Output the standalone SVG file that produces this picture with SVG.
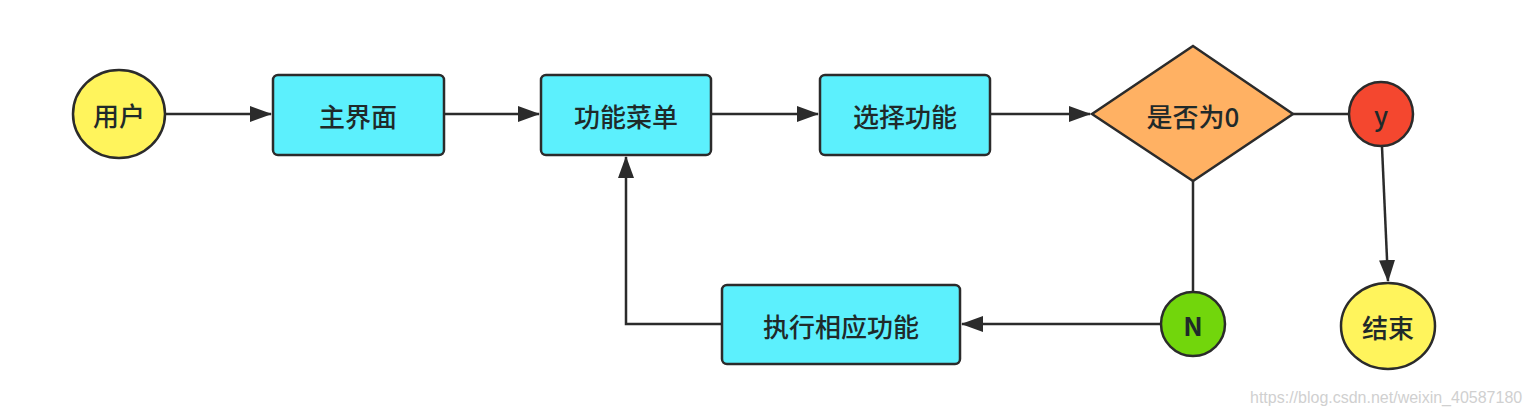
<svg xmlns="http://www.w3.org/2000/svg" width="1531" height="415" viewBox="0 0 1531 415">
<style>
.s{stroke:#2b2b2b;stroke-width:2.5}
.y{fill:#fff45c}
.c{fill:#5cf0fd}
.o{fill:#ffb163}
.r{fill:#f4472f}
.g{fill:#72d60c}
.t{font-family:"Noto Sans CJK SC","Noto Sans",sans-serif;font-size:26px;font-weight:500;fill:#1f2a2a;text-anchor:middle;dominant-baseline:central}
.l{fill:none;stroke:#2b2b2b;stroke-width:2.5}
.wm{font-family:"Liberation Sans",Arial,sans-serif;font-size:16px;fill:#d0d0d0}
</style>
<defs>
<marker id="ah" viewBox="0 0 22 16" refX="21" refY="8" markerWidth="22" markerHeight="16" markerUnits="userSpaceOnUse" orient="auto">
<path d="M0,0 L22,8 L0,16 Z" fill="#2b2b2b"/>
</marker>
</defs>
<rect width="1531" height="415" fill="#ffffff"/>
<g id="connectors">
<line class="l" x1="165" y1="114" x2="271" y2="114" marker-end="url(#ah)"/>
<line class="l" x1="445" y1="114" x2="539" y2="114" marker-end="url(#ah)"/>
<line class="l" x1="711" y1="114" x2="818" y2="114" marker-end="url(#ah)"/>
<line class="l" x1="990" y1="114" x2="1090" y2="114" marker-end="url(#ah)"/>
<line class="l" x1="1293" y1="114" x2="1350" y2="114"/>
<line class="l" x1="1382" y1="147" x2="1388" y2="281" marker-end="url(#ah)"/>
<line class="l" x1="1193" y1="181" x2="1193" y2="291"/>
<line class="l" x1="1162" y1="324" x2="962" y2="324" marker-end="url(#ah)"/>
<polyline class="l" points="721,324 626,324 626,157" marker-end="url(#ah)"/>
</g>
<g id="n-user">
<ellipse class="s y" cx="119" cy="114" rx="46" ry="44"/>
<text class="t" x="119" y="114">用户</text>
</g>
<g id="n-main">
<rect class="s c" x="273" y="75" width="171" height="80" rx="5"/>
<text class="t" x="358" y="115">主界面</text>
</g>
<g id="n-menu">
<rect class="s c" x="541" y="75" width="170" height="80" rx="5"/>
<text class="t" x="626" y="115">功能菜单</text>
</g>
<g id="n-select">
<rect class="s c" x="820" y="75" width="170" height="80" rx="5"/>
<text class="t" x="905" y="115">选择功能</text>
</g>
<g id="n-decide">
<polygon class="s o" points="1193,46 1293,114 1193,181 1092,114"/>
<text class="t" x="1193" y="115">是否为0</text>
</g>
<g id="n-y">
<circle class="s r" cx="1381" cy="114" r="32"/>
<text class="t" x="1381" y="114">y</text>
</g>
<g id="n-end">
<ellipse class="s y" cx="1388" cy="326" rx="47" ry="43"/>
<text class="t" x="1388" y="326">结束</text>
</g>
<g id="n-n">
<circle class="s g" cx="1193" cy="324" r="32"/>
<text class="t" x="1193" y="324" style="font-weight:600">N</text>
</g>
<g id="n-exec">
<rect class="s c" x="722" y="285" width="238" height="79" rx="5"/>
<text class="t" x="841" y="325">执行相应功能</text>
</g>
<text class="wm" x="1250" y="403">https://blog.csdn.net/weixin_40587180</text>
</svg>
